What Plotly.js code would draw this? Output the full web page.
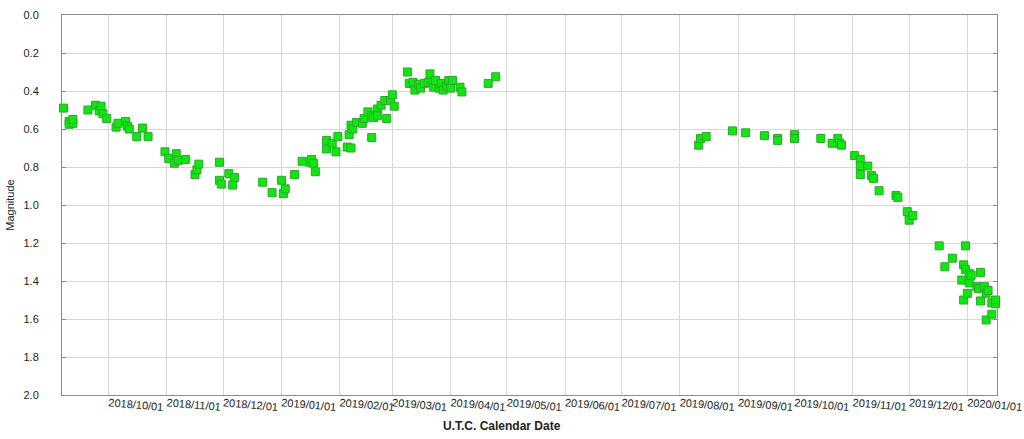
<!DOCTYPE html>
<html>
<head>
<meta charset="utf-8">
<script src="https://cdn.plot.ly/plotly-3.0.1.min.js"></script>
<style>
  html, body { margin: 0; padding: 0; background: #fff; }
  #chart { width: 1024px; height: 439px; }
</style>
</head>
<body>
<div id="chart"></div>
<script>
const obsDates = [
  '2018-09-06','2018-09-07','2018-09-10','2018-09-10','2018-09-12','2018-09-12','2018-09-20','2018-09-24',
  '2018-09-26','2018-09-27','2018-09-28','2018-09-30','2018-10-05','2018-10-06','2018-10-10','2018-10-11',
  '2018-10-12','2018-10-16','2018-10-19','2018-10-22','2018-10-31','2018-11-02','2018-11-05','2018-11-06',
  '2018-11-07','2018-11-11','2018-11-16','2018-11-17','2018-11-18','2018-11-29','2018-11-29','2018-11-30',
  '2018-12-04','2018-12-06','2018-12-07','2018-12-22','2018-12-27','2019-01-01','2019-01-02','2019-01-03',
  '2019-01-08','2019-01-12','2019-01-16','2019-01-17','2019-01-18','2019-01-19','2019-01-25','2019-01-25',
  '2019-01-28','2019-01-30','2019-01-31','2019-02-05','2019-02-07','2019-02-06','2019-02-07','2019-02-08',
  '2019-02-10','2019-02-13','2019-02-14','2019-02-16','2019-02-18','2019-02-18','2019-02-19','2019-02-21',
  '2019-02-21','2019-02-23','2019-02-25','2019-02-26','2019-02-28','2019-03-01','2019-03-02','2019-03-09',
  '2019-03-10','2019-03-12','2019-03-13','2019-03-15','2019-03-16','2019-03-18','2019-03-20','2019-03-21',
  '2019-03-22','2019-03-23','2019-03-24','2019-03-26','2019-03-27','2019-03-28','2019-03-30','2019-03-31',
  '2019-04-01','2019-04-02','2019-04-06','2019-04-07','2019-04-21','2019-04-25',
  '2019-08-11','2019-08-12','2019-08-15','2019-08-29','2019-09-05','2019-09-15','2019-09-22','2019-09-22',
  '2019-10-01','2019-10-01','2019-10-15','2019-10-21','2019-10-24','2019-10-25','2019-10-26','2019-11-02',
  '2019-11-05','2019-11-05','2019-11-05','2019-11-09','2019-11-11','2019-11-12','2019-11-15','2019-11-24',
  '2019-11-25','2019-11-30','2019-12-01','2019-12-03','2019-12-17','2019-12-20','2019-12-24','2019-12-29',
  '2019-12-30','2019-12-30','2019-12-31','2019-12-31','2020-01-01','2020-01-02','2020-01-02','2020-01-03',
  '2020-01-06','2020-01-07','2020-01-08','2020-01-08','2020-01-10','2020-01-11','2020-01-11','2020-01-12',
  '2020-01-14','2020-01-14','2020-01-16','2020-01-16'
];
const magnitudes = [
  0.47, 0.49, 0.56, 0.575, 0.57, 0.55, 0.50, 0.475,
  0.505, 0.48, 0.52, 0.545, 0.59, 0.57, 0.56, 0.585,
  0.60, 0.64, 0.595, 0.64, 0.72, 0.755, 0.78, 0.73,
  0.765, 0.76, 0.84, 0.815, 0.785, 0.775, 0.87, 0.89,
  0.835, 0.895, 0.855, 0.88, 0.935, 0.87, 0.94, 0.915,
  0.84, 0.77, 0.775, 0.76, 0.78, 0.825, 0.66, 0.705,
  0.675, 0.72, 0.64, 0.695, 0.70, 0.63, 0.58, 0.60,
  0.565, 0.57, 0.545, 0.51, 0.645, 0.53, 0.54, 0.495,
  0.53, 0.475, 0.45, 0.545, 0.45, 0.42, 0.48, 0.30,
  0.36, 0.355, 0.395, 0.365, 0.385, 0.36, 0.355, 0.31,
  0.355, 0.38, 0.345, 0.385, 0.36, 0.395, 0.375, 0.345,
  0.385, 0.345, 0.38, 0.405, 0.36, 0.325,
  0.685, 0.65, 0.64, 0.61, 0.62, 0.635, 0.65, 0.66,
  0.63, 0.65, 0.65, 0.675, 0.65, 0.675, 0.685, 0.74,
  0.76, 0.795, 0.84, 0.795, 0.845, 0.86, 0.925, 0.95,
  0.96, 1.035, 1.08, 1.055, 1.215, 1.325, 1.28, 1.395,
  1.315, 1.50, 1.215, 1.34, 1.465, 1.36, 1.41, 1.37,
  1.43, 1.44, 1.355, 1.505, 1.43, 1.465, 1.605, 1.45,
  1.515, 1.575, 1.52, 1.50
];
const xRange = ['2018-09-06 05:00', '2020-01-16 18:00'];
const yRange = [2.0, 0.0];
const xTitle = 'U.T.C. Calendar Date';
const yTitle = 'Magnitude';

const font = "Liberation Sans, Arial, sans-serif";

const trace = {
  type: 'scatter',
  mode: 'markers',
  x: obsDates,
  y: magnitudes,
  cliponaxis: false,
  marker: {
    symbol: 'square',
    size: 8,
    color: '#11e611',
    line: { color: '#2aa82a', width: 1 }
  },
  hoverinfo: 'x+y',
  showlegend: false
};

const layout = {
  width: 1024,
  height: 439,
  margin: { l: 62, r: 27, t: 15, b: 44 },
  paper_bgcolor: '#ffffff',
  plot_bgcolor: '#ffffff',
  font: { family: font, size: 11, color: '#222' },
  xaxis: {
    type: 'date',
    range: xRange,
    tick0: '2018-10-01',
    dtick: 'M1',
    tickformat: '%Y/%m/%d',
    tickangle: 5,
    ticks: '',
    ticklabelstandoff: -3,
    showgrid: true,
    gridcolor: '#d6d6d6',
    gridwidth: 1,
    showline: true,
    linecolor: '#8c8c8c',
    linewidth: 1,
    mirror: true,
    zeroline: false,
    tickfont: { family: font, size: 11, color: '#222' },
    fixedrange: true
  },
  yaxis: {
    range: yRange,
    dtick: 0.2,
    tick0: 0,
    tickformat: '.1f',
    ticks: 'inside',
    ticklen: 4,
    tickcolor: '#8c8c8c',
    ticklabelstandoff: 20,
    showgrid: true,
    gridcolor: '#d6d6d6',
    gridwidth: 1,
    showline: true,
    linecolor: '#8c8c8c',
    linewidth: 1,
    mirror: 'ticks',
    zeroline: false,
    tickfont: { family: font, size: 11, color: '#222' },
    title: { text: yTitle, font: { family: font, size: 11, color: '#222' }, standoff: 6 },
    fixedrange: true
  },
  annotations: [{
    text: '<b>' + xTitle + '</b>',
    xref: 'paper', yref: 'paper',
    x: 0.4706, y: 0,
    xanchor: 'center', yanchor: 'top',
    yshift: -22,
    showarrow: false,
    font: { family: font, size: 12, color: '#222' }
  }]
};

Plotly.newPlot('chart', [trace], layout, { staticPlot: true, displayModeBar: false });
</script>
</body>
</html>
